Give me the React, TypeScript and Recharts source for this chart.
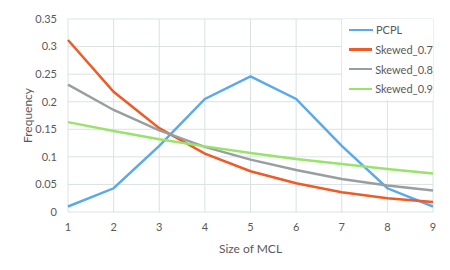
import { LineChart, Line, XAxis, YAxis, CartesianGrid, Label } from 'recharts'

const sizes = [1, 2, 3, 4, 5, 6, 7, 8, 9]
const pcpl = [0.01, 0.043, 0.12, 0.205, 0.246, 0.205, 0.12, 0.043, 0.01]
const skewed07 = [0.312, 0.218, 0.152, 0.106, 0.074, 0.052, 0.036, 0.025, 0.018]
const skewed08 = [0.231, 0.185, 0.148, 0.118, 0.095, 0.076, 0.060, 0.048, 0.039]
const skewed09 = [0.163, 0.147, 0.132, 0.119, 0.107, 0.096, 0.087, 0.078, 0.070]
const yTicks = [0, 0.05, 0.1, 0.15, 0.2, 0.25, 0.3, 0.35]

const data = sizes.map((s, i) => ({
  size: s,
  PCPL: pcpl[i],
  'Skewed_0.7': skewed07[i],
  'Skewed_0.8': skewed08[i],
  'Skewed_0.9': skewed09[i],
}))

const series = [
  { key: 'PCPL', color: '#5AA9EC' },
  { key: 'Skewed_0.7', color: '#EE5B26' },
  { key: 'Skewed_0.8', color: '#999E9F' },
  { key: 'Skewed_0.9', color: '#98E36A' },
]

const FONT = 'Lato, "Open Sans", sans-serif'
const TEXT = '#595959'

// legend sits over the grid in the top right corner, white box hides the lines behind it
function LegendBox() {
  return (
    <div style={{
      position: 'absolute', left: 342, top: 19, width: 91, height: 81,
      background: '#fff', paddingTop: 1, boxSizing: 'border-box',
    }}>
      {series.map(s => (
        <div key={s.key} style={{ display: 'flex', alignItems: 'center', height: 19.7, fontFamily: FONT, fontSize: 11, color: TEXT }}>
          <span style={{ display: 'inline-block', width: 24, height: 2.5, background: s.color, marginLeft: 7, marginRight: 3 }} />
          {s.key}
        </div>
      ))}
    </div>
  )
}

export default function App() {
  return (
    <div style={{ position: 'absolute', left: 0, top: 0, width: 450, height: 270, background: '#fff' }}>
      <LineChart width={450} height={270} data={data} margin={{ top: 19, right: 17, left: 18, bottom: 13 }}>
        <CartesianGrid stroke="#D9E2E3" strokeWidth={1} />
        <XAxis
          dataKey="size"
          interval={0}
          axisLine={false}
          tickLine={false}
          tickMargin={5}
          height={45}
          tick={{ fontSize: 11, fill: TEXT, fontFamily: FONT }}
        >
          <Label value="Size of MCL" position="insideBottom" offset={4} style={{ fontSize: 12, fill: TEXT, fontFamily: FONT }} />
        </XAxis>
        <YAxis
          width={50}
          domain={[0, 0.35]}
          ticks={yTicks}
          interval={0}
          axisLine={false}
          tickLine={false}
          tickMargin={5}
          tickFormatter={v => `${v}`}
          tick={{ fontSize: 11, fill: TEXT, fontFamily: FONT }}
        >
          <Label
            content={({ viewBox }: any) => {
              const x = viewBox.x + 9
              const y = viewBox.y + viewBox.height / 2
              return (
                <text x={x} y={y} transform={`rotate(-90 ${x} ${y})`} textAnchor="middle" dominantBaseline="central"
                  style={{ fontSize: 12, fill: TEXT, fontFamily: FONT }}>
                  Frequency
                </text>
              )
            }}
          />
        </YAxis>
        {series.map(s => (
          <Line key={s.key} type="linear" dataKey={s.key} stroke={s.color} strokeWidth={2.5} dot={false} isAnimationActive={false} />
        ))}
      </LineChart>
      <LegendBox />
    </div>
  )
}
